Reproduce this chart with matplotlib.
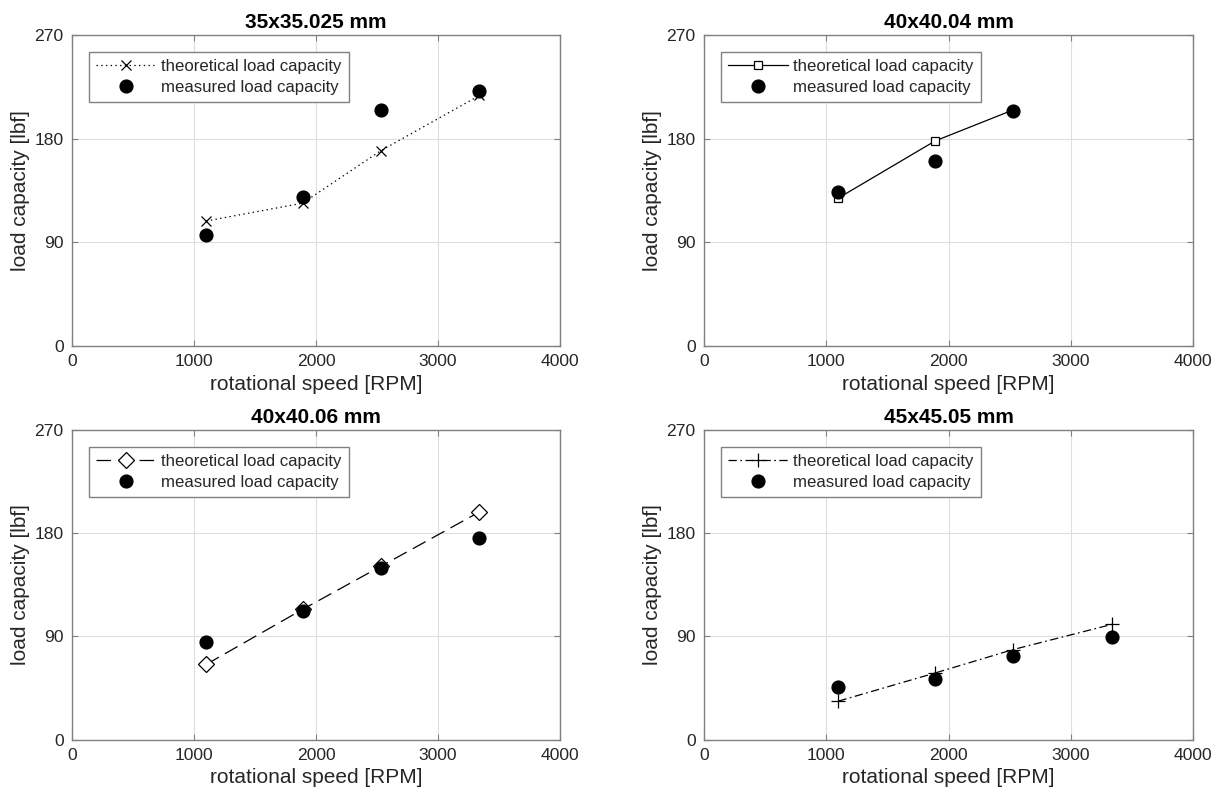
import matplotlib
matplotlib.use("Agg")
import matplotlib.pyplot as plt

plt.rcParams['font.family'] = ['Liberation Sans', 'DejaVu Sans']
plt.rcParams['lines.scale_dashes'] = False

titles = ["35x35.025 mm", "40x40.04 mm", "40x40.06 mm", "45x45.05 mm"]

rpm_1 = [1100, 1890, 2530, 3340]
theory_1 = [108.5, 124.0, 169.5, 217.5]
measured_1 = [96.0, 129.5, 205.0, 221.0]

rpm_2 = [1100, 1890, 2530]
theory_2 = [128.5, 178.0, 205.0]
measured_2 = [134.0, 161.0, 204.0]

rpm_3 = [1100, 1890, 2530, 3340]
theory_3 = [65.5, 113.5, 151.0, 198.5]
measured_3 = [85.0, 112.5, 150.0, 176.0]

rpm_4 = [1100, 1890, 2530, 3340]
theory_4 = [33.5, 58.0, 78.5, 100.5]
measured_4 = [46.0, 53.0, 72.5, 89.5]

xticks = [0, 1000, 2000, 3000, 4000]
yticks = [0, 90, 180, 270]

W, H = 1215, 795
fig = plt.figure(figsize=(W / 100, H / 100), dpi=100)

boxes = [(72, 35, 560, 346), (704, 35, 1193, 346),
         (72, 430, 560, 739.5), (704, 430, 1193, 739.5)]

styles = [
    dict(marker='x', ls=(0, (1.0, 2.4)), ms=7),
    dict(marker='s', ls='-', ms=6),
    dict(marker='D', ls=(0, (10.5, 5)), ms=8.5),
    dict(marker='+', ls=(0, (6, 2.5, 1.2, 2.5)), ms=9.5),
]

data = [(rpm_1, theory_1, measured_1), (rpm_2, theory_2, measured_2),
        (rpm_3, theory_3, measured_3), (rpm_4, theory_4, measured_4)]

axcol = '#262626'
edge = '#808080'

for (l, t, r, b), title, st, (x, th, me) in zip(boxes, titles, styles, data):
    ax = fig.add_axes([l / W, 1 - b / H, (r - l) / W, (b - t) / H])
    ax.plot(x, th, color='black', lw=0.9, marker=st['marker'], linestyle=st['ls'],
            ms=st['ms'], mfc='white' if st['marker'] in ('s', 'D') else 'none',
            mec='black', mew=0.9, label='theoretical load capacity')
    ax.plot(x, me, linestyle='none', marker='o', ms=9.2, color='black',
            label='measured load capacity')
    ax.set_xlim(0, 4000)
    ax.set_ylim(0, 270)
    ax.set_xticks(xticks)
    ax.set_yticks(yticks)
    ax.grid(True, color='#dedede', lw=0.8)
    ax.set_axisbelow(True)
    ax.tick_params(direction='in', top=True, right=True, length=4, width=0.8,
                   colors=edge, labelcolor=axcol, labelsize=12.6, pad=6)
    for s in ax.spines.values():
        s.set_color(edge)
        s.set_linewidth(1.0)
    ax.set_xlabel('rotational speed [RPM]', fontsize=15, color=axcol, labelpad=4)
    ax.set_ylabel('load capacity [lbf]', fontsize=15, color=axcol, labelpad=3)
    ax.set_title(title, fontsize=15, fontweight='bold', color='black', pad=5)
    leg = ax.legend(loc='upper left', fontsize=12.1, fancybox=False, framealpha=1,
                    edgecolor=edge, borderaxespad=1.0, handlelength=3.55,
                    labelspacing=0.33, borderpad=0.45, handletextpad=0.3)
    leg.get_frame().set_linewidth(1.0)
    for txt in leg.get_texts():
        txt.set_color(axcol)

fig.savefig('out.png', dpi=100)
